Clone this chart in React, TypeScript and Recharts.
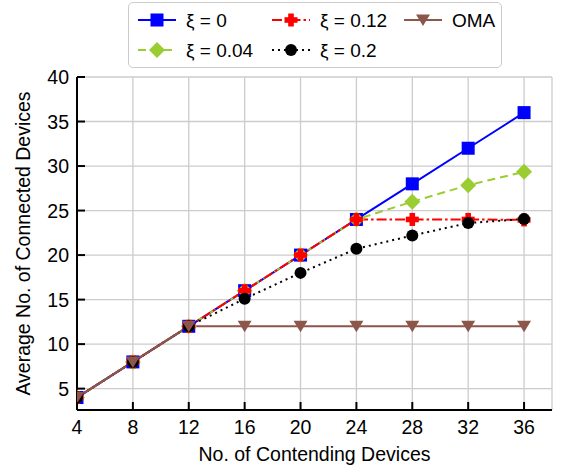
import React from "react";
import {
  LineChart,
  Line,
  XAxis,
  YAxis,
  CartesianGrid,
  Legend,
} from "recharts";

const devices = [4, 8, 12, 16, 20, 24, 28, 32, 36];
const xi0 = [4, 8, 12, 16, 20, 24, 28, 32, 36];
const xi004 = [4, 8, 12, 16, 20, 24, 26, 27.85, 29.35];
const xi012 = [4, 8, 12, 16, 20, 24, 24, 24, 23.95];
const xi02 = [4, 8, 12, 15.1, 18, 20.7, 22.2, 23.6, 24.05];
const oma = [4, 8, 12, 12, 12, 12, 12, 12, 12];

const xTicks = [4, 8, 12, 16, 20, 24, 28, 32, 36];
const yTicks = [5, 10, 15, 20, 25, 30, 35, 40];

const data = devices.map((d, i) => ({
  x: d,
  xi0: xi0[i],
  xi004: xi004[i],
  xi012: xi012[i],
  xi02: xi02[i],
  oma: oma[i],
}));

const FONT = "'Liberation Sans', Arial, Helvetica, sans-serif";
const FS = 19.5;

type Shape = "square" | "diamond" | "plus" | "circle" | "tri";

function Marker({ shape, cx, cy, color }: { shape: Shape; cx: number; cy: number; color: string }) {
  if (cx == null || cy == null) return null;
  switch (shape) {
    case "square":
      return <rect x={cx - 6.5} y={cy - 6.5} width={13} height={13} fill={color} />;
    case "diamond":
      return (
        <polygon
          points={`${cx},${cy - 8} ${cx + 8},${cy} ${cx},${cy + 8} ${cx - 8},${cy}`}
          fill={color}
        />
      );
    case "plus":
      return (
        <g fill={color}>
          <rect x={cx - 6.5} y={cy - 2.8} width={13} height={5.6} />
          <rect x={cx - 2.8} y={cy - 6.5} width={5.6} height={13} />
        </g>
      );
    case "circle":
      return <circle cx={cx} cy={cy} r={6} fill={color} />;
    case "tri":
      return (
        <polygon
          points={`${cx - 7},${cy - 5.5} ${cx + 7},${cy - 5.5} ${cx},${cy + 6}`}
          fill={color}
        />
      );
  }
  return null;
}

const series = [
  { key: "xi0", name: "ξ = 0", color: "#0000ff", dash: undefined, shape: "square" as Shape },
  { key: "xi004", name: "ξ = 0.04", color: "#9acd32", dash: "8 5", shape: "diamond" as Shape },
  { key: "xi012", name: "ξ = 0.12", color: "#ff0000", dash: "10 3 2.5 3", shape: "plus" as Shape },
  { key: "xi02", name: "ξ = 0.2", color: "#000000", dash: "2 4", shape: "circle" as Shape },
  { key: "oma", name: "OMA", color: "#8c564b", dash: undefined, shape: "tri" as Shape },
];

// legend positions (relative to the legend box)
const legendSlots: Record<string, [number, number]> = {
  xi0: [9, 0],
  xi004: [9, 1],
  xi012: [143, 0],
  xi02: [143, 1],
  oma: [275, 0],
};

function LegendBox() {
  return (
    <div
      style={{
        width: 374,
        height: 66,
        border: "1.5px solid #cccccc",
        borderRadius: 5,
        background: "#fff",
        boxSizing: "border-box",
      }}
    >
      <svg width={372} height={63} style={{ display: "block" }}>
        {series.map((s) => {
          const [lx, row] = legendSlots[s.key];
          const cy = row === 0 ? 17 : 47;
          return (
            <g key={s.key}>
              <line
                x1={lx}
                x2={lx + 38}
                y1={cy}
                y2={cy}
                stroke={s.color}
                strokeWidth={2}
                strokeDasharray={s.dash}
              />
              <Marker shape={s.shape} cx={lx + 19} cy={cy} color={s.color} />
              <text x={lx + 48} y={cy + 7} fontSize={19} fontFamily={FONT} fill="#000">
                {s.name}
              </text>
            </g>
          );
        })}
      </svg>
    </div>
  );
}

const BottomTick = (props: any) => {
  const { x, y, payload } = props;
  return (
    <g>
      <line x1={x} x2={x} y1={y} y2={y - 8} stroke="#000" strokeWidth={2} />
      <text x={x} y={y + 24} textAnchor="middle" fontSize={FS} fontFamily={FONT} fill="#000">
        {payload.value}
      </text>
    </g>
  );
};

const LeftTick = (props: any) => {
  const { x, y, payload } = props;
  return (
    <g>
      <line x1={x} x2={x + 8} y1={y} y2={y} stroke="#000" strokeWidth={2} />
      <text x={x - 8} y={y + 7} textAnchor="end" fontSize={FS} fontFamily={FONT} fill="#000">
        {payload.value}
      </text>
    </g>
  );
};

const TopTick = (props: any) => {
  const { x, y } = props;
  return <line x1={x} x2={x} y1={y} y2={y + 8} stroke="#000" strokeWidth={2} />;
};

const RightTick = (props: any) => {
  const { x, y } = props;
  return <line x1={x} x2={x - 8} y1={y} y2={y} stroke="#000" strokeWidth={2} />;
};

export default function App() {
  return (
    <div style={{ position: "absolute", left: 0, top: 0, width: 561, height: 468, background: "#fff" }}>
      <LineChart
        width={561}
        height={468}
        data={data}
        margin={{ top: 77, right: 9, left: 0, bottom: 0 }}
      >
        <CartesianGrid stroke="#cccccc" strokeWidth={1.3} />
        <XAxis
          dataKey="x"
          type="number"
          domain={[4, 38]}
          ticks={xTicks}
          interval={0}
          height={58}
          tickSize={0}
          tickMargin={0}
          tick={<BottomTick />}
          axisLine={{ stroke: "#000", strokeWidth: 2 }}
          tickLine={false}
          allowDataOverflow
          label={{
            value: "No. of Contending Devices",
            position: "insideBottom",
            offset: 7,
            style: { fontSize: FS, fontFamily: FONT, fill: "#000" },
          }}
        />
        <XAxis
          xAxisId="top"
          dataKey="x"
          type="number"
          orientation="top"
          domain={[4, 38]}
          ticks={xTicks}
          interval={0}
          height={0}
          tickSize={0}
          tickMargin={0}
          tick={<TopTick />}
          tickLine={false}
          axisLine={{ stroke: "#000", strokeWidth: 2 }}
          allowDataOverflow
        />
        <YAxis
          type="number"
          domain={[2.6, 40]}
          ticks={yTicks}
          interval={0}
          width={77}
          tickSize={0}
          tickMargin={0}
          tick={<LeftTick />}
          tickLine={false}
          axisLine={{ stroke: "#000", strokeWidth: 2 }}
          allowDataOverflow
          label={{
            value: "Average No. of Connected Devices",
            angle: -90,
            position: "insideLeft",
            offset: 23,
            style: { fontSize: FS, fontFamily: FONT, fill: "#000", textAnchor: "middle" },
          }}
        />
        <YAxis
          yAxisId="right"
          orientation="right"
          type="number"
          domain={[2.6, 40]}
          ticks={yTicks}
          interval={0}
          width={0}
          tickSize={0}
          tickMargin={0}
          tick={<RightTick />}
          tickLine={false}
          axisLine={{ stroke: "#000", strokeWidth: 2 }}
          allowDataOverflow
        />
        <Legend
          layout="horizontal"
          verticalAlign="middle"
          align="center"
          content={() => <LegendBox />}
          wrapperStyle={{ top: 2, left: 128, width: 374, height: 66 }}
        />
        {series.map((s) => (
          <Line
            key={s.key}
            dataKey={s.key}
            name={s.name}
            type="linear"
            stroke={s.color}
            strokeWidth={2}
            strokeDasharray={s.dash}
            isAnimationActive={false}
            dot={(p: any) => (
              <Marker key={`${s.key}-${p.index}`} shape={s.shape} cx={p.cx} cy={p.cy} color={s.color} />
            )}
            activeDot={false}
          />
        ))}
      </LineChart>
    </div>
  );
}
